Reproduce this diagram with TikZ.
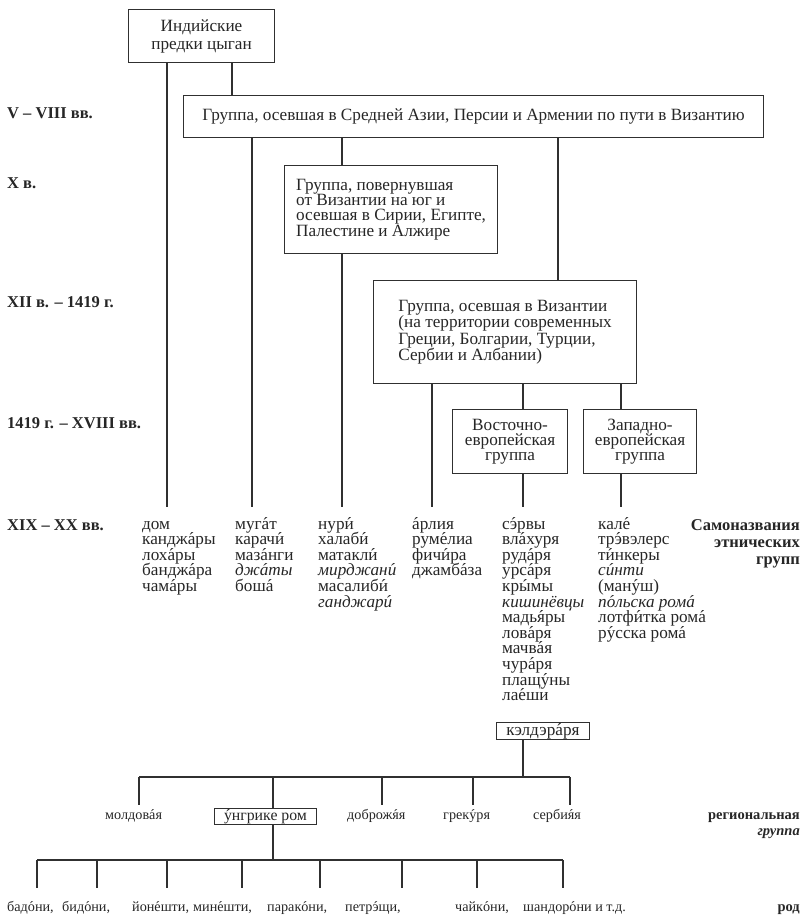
\documentclass[tikz,border=0pt]{standalone}
\usepackage{fontspec}
\setmainfont{Liberation Serif}
\definecolor{ink}{HTML}{262626}
\definecolor{linec}{HTML}{303030}
\newcommand\ac[1]{\ooalign{#1\cr\hidewidth\char"00B4\hidewidth\cr}}
\begin{document}
\begin{tikzpicture}[x=1pt,y=-1pt,
  ln/.style={draw=linec,line width=1.1pt},
  gbox/.style={draw=linec,line width=1.1pt,inner sep=0pt,anchor=north west,text=ink},
  sbox/.style={draw=linec,line width=1pt,inner xsep=0pt,inner ysep=0.8pt,anchor=north west,text=ink},
  ct/.style={anchor=base west,inner sep=0pt,text=ink,font=\fontsize{17.2}{15.4}\selectfont},
  rowlab/.style={anchor=base west,inner sep=0pt,text=ink,font=\fontsize{16.5}{18}\selectfont\bfseries},
  rlab/.style={anchor=base east,inner sep=0pt,text=ink,font=\fontsize{16.5}{18}\selectfont\bfseries},
  blab/.style={anchor=base east,inner sep=0pt,text=ink,font=\fontsize{14.5}{16}\selectfont\bfseries},
  bt/.style={anchor=base west,inner sep=0pt,text=ink,font=\fontsize{14.2}{16}\selectfont},
]
\useasboundingbox[fill=white] (0,0) rectangle (805,922);

% ---- boxes
\node[gbox,minimum width=146pt,minimum height=53pt,align=center,font=\fontsize{17.2}{18}\selectfont] (b1) at (128,9) {Индийские\\предки цыган};
\node[gbox,minimum width=580pt,minimum height=42pt,font=\fontsize{17.2}{16}\selectfont] (b2) at (183,95) {Группа, осевшая в Средней Азии, Персии и Армении по пути в Византию};
\node[gbox,minimum width=213pt,minimum height=88pt,align=left,font=\fontsize{17.2}{15.2}\selectfont] (b3) at (284,165) {Группа, повернувшая\\от Византии на юг и\\осевшая в Сирии, Египте,\\Палестине и Алжире};
\node[gbox,minimum width=263pt,minimum height=103pt,align=left,font=\fontsize{17.2}{16.3}\selectfont] (b4) at (373,280) {Группа, осевшая в Византии\\(на территории современных\\Греции, Болгарии, Турции,\\Сербии и Албании)};
\node[gbox,minimum width=115pt,minimum height=64pt,align=center,font=\fontsize{17.2}{15.2}\selectfont] (b5) at (452,409) {Восточно-\\европейская\\группа};
\node[gbox,minimum width=113pt,minimum height=64pt,align=center,font=\fontsize{17.2}{15.2}\selectfont] (b6) at (583,409) {Западно-\\европейская\\группа};

% ---- period labels
\node[rowlab] (p1) at (7,118) {V – VIII вв.};
\node[rowlab] (p2) at (7,188) {X в.};
\node[rowlab] (p3) at (7,307) {XII в. – 1419 г.};
\node[rowlab] (p4) at (7,428) {1419 г. – XVIII вв.};
\node[rowlab] (p5) at (7,530) {XIX – XX вв.};

% ---- columns of self-names
\foreach \w [count=\i] in {дом,кандж\ac{а}ры,лох\ac{а}ры,бандж\ac{а}ра,чам\ac{а}ры}
  \node[ct] (ca\i) at (142,{529+15.6*(\i-1)}) {\w};
\foreach \w [count=\i] in {муг\ac{а}т,карач\ac{и},маз\ac{а}нги,\textit{дж\ac{а}ты},бош\ac{а}}
  \node[ct] (cb\i) at (235,{529+15.6*(\i-1)}) {\w};
\foreach \w [count=\i] in {нур\ac{и},халаб\ac{и},матакл\ac{и},\textit{мирджан\ac{и}},масалиб\ac{и},\textit{ганджар\ac{и}}}
  \node[ct] (cc\i) at (318,{529+15.6*(\i-1)}) {\w};
\foreach \w [count=\i] in {\ac{а}рлия,рум\ac{е}лиа,фич\ac{и}ра,джамб\ac{а}за}
  \node[ct] (cd\i) at (412,{529+15.6*(\i-1)}) {\w};
\foreach \w [count=\i] in {с\ac{э}рвы,вл\ac{а}хуря,руд\ac{а}ря,урс\ac{а}ря,кр\ac{ы}мы,\textit{кишинёвцы},мадь\ac{я}ры,лов\ac{а}ря,мачв\ac{а}я,чур\ac{а}ря,плащ\ac{у}ны,ла\ac{е}ши}
  \node[ct] (ce\i) at (502,{529+15.6*(\i-1)}) {\w};
\foreach \w [count=\i] in {кал\ac{е},тр\ac{э}вэлерс,т\ac{и}нкеры,\textit{с\ac{и}нти},(ман\ac{у}ш),\textit{п\ac{о}льска ром\ac{а}},лотф\ac{и}тка ром\ac{а},р\ac{у}сска ром\ac{а}}
  \node[ct] (cf\i) at (598,{529+15.6*(\i-1)}) {\w};
\node[sbox,minimum width=93pt,font=\fontsize{17.2}{15.4}\selectfont] (kb) at (496,722) {\rule{0pt}{12pt}кэлдэр\ac{а}ря};

\node[rlab] (s1) at (800,530) {Самоназвания};
\node[rlab] (s2) at (800,547) {этнических};
\node[rlab] (s3) at (800,564) {групп};

% ---- connectors of the upper tree
\coordinate (eA) at (167,507);
\coordinate (eB) at (252,507);
\coordinate (eC) at (342,507);
\coordinate (eD) at (432,507);
\coordinate (eE) at (523,507);
\coordinate (eF) at (621,507);
\coordinate (k1) at (232,0);
\coordinate (k3) at (558,0);
\draw[ln] (b1.south -| eA) -- (eA);
\draw[ln] (b1.south -| k1) -- (b2.north -| k1);
\draw[ln] (b2.south -| eB) -- (eB);
\draw[ln] (b2.south -| eC) -- (b3.north -| eC);
\draw[ln] (b3.south -| eC) -- (eC);
\draw[ln] (b2.south -| k3) -- (b4.north -| k3);
\draw[ln] (b4.south -| eD) -- (eD);
\draw[ln] (b4.south -| eE) -- (b5.north -| eE);
\draw[ln] (b5.south -| eE) -- (eE);
\draw[ln] (b4.south -| eF) -- (b6.north -| eF);
\draw[ln] (b6.south -| eF) -- (eF);

% ---- regional groups
\node[bt] (g1) at (105,819) {молдов\ac{а}я};
\node[sbox,minimum width=102pt,font=\fontsize{15.8}{16}\selectfont] (ub) at (214,808) {\rule{0pt}{11.2pt}\ac{у}нгрике ром};
\node[bt] (g3) at (347,819) {доброж\ac{я}я};
\node[bt] (g4) at (443,819) {грек\ac{у}ря};
\node[bt] (g5) at (533,819) {серби\ac{я}я};
\node[blab] (rg1) at (800,819) {региональная};
\node[blab] (rg2) at (800,835) {\itshape группа};

\coordinate (h1) at (523,777);
\coordinate (hL) at (139,777);
\coordinate (hR) at (570,777);
\coordinate (hU) at (273,777);
\draw[ln] (kb.south -| h1) -- (h1);
\draw[ln] (hL) -- (hR);
\coordinate (d1) at (139,805);
\coordinate (d3) at (382,805);
\coordinate (d4) at (473,805);
\coordinate (d5) at (570,805);
\draw[ln] (hL) -- (d1);
\draw[ln] (hU) -- (ub.north -| hU);
\draw[ln] (hL -| d3) -- (d3);
\draw[ln] (hL -| d4) -- (d4);
\draw[ln] (hR) -- (d5);

% ---- clans
\coordinate (h2) at (273,860);
\coordinate (h2L) at (37,860);
\coordinate (h2R) at (563,860);
\draw[ln] (ub.south -| h2) -- (h2);
\draw[ln] (h2L) -- (h2R);
\foreach \x [count=\i] in {37,97,167,242,320,402,477,563} {
  \coordinate (r\i) at (\x,888);
  \draw[ln] (h2L -| r\i) -- (r\i);
}
\foreach \w/\x [count=\i] in {{бад\ac{о}ни,}/7,{бид\ac{о}ни,}/62,{йон\ac{е}шти,}/132,{мин\ac{е}шти,}/193,{парак\ac{о}ни,}/267,{петр\ac{э}щи,}/345,{чайк\ac{о}ни,}/455,{шандор\ac{о}ни и т.д.}/523}
  \node[bt] (w\i) at (\x,911) {\w};
\node[blab] (rod) at (800,911) {род};
\end{tikzpicture}
\end{document}
